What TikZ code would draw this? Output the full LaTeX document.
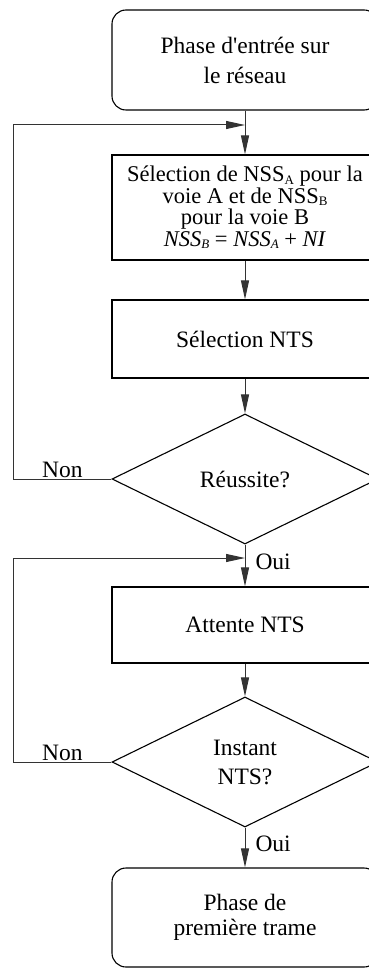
\documentclass[tikz,border=0pt]{standalone}
\usepackage{fontspec}
\setmainfont{Liberation Serif}
\usetikzlibrary{shapes.geometric,arrows.meta}

\newcommand{\bas}[1]{\raisebox{-0.25ex}{\fontsize{13}{13}\selectfont #1}}

\tikzset{
  bloc/.style={draw, line width=1.1pt, minimum width=266pt, align=center, inner sep=0pt},
  term/.style={bloc, rounded corners=14pt},
  test/.style={draw, line width=1.1pt, diamond, aspect=2.05, minimum width=266pt, minimum height=130pt, align=center, inner sep=0pt},
  fleche/.style={draw=black!80, line width=1pt, -{Triangle[length=19pt,width=8pt]}},
  lbl/.style={inner sep=1pt}
}

\begin{document}
\begin{tikzpicture}[x=1pt,y=-1pt,font=\fontsize{23.5}{21}\selectfont]
\useasboundingbox (0,0) rectangle (368,968);

\node[term, minimum height=100pt, font=\fontsize{23.5}{30}\selectfont] (entree) at (245,60) {Phase d\textquotesingle entrée sur\\le réseau};
\node[bloc, minimum height=105pt, font=\fontsize{22.5}{21.5}\selectfont] (selnss) at (245,207.5) {Sélection de NSS\bas{A} pour la\\voie A et de NSS\bas{B}\\pour la voie B\\\textit{NSS\bas{B}} = \textit{NSS\bas{A}} + \textit{NI}};
\node[bloc, minimum height=78pt] (selnts) at (245,339) {Sélection NTS};
\node[test] (reussite) at (245,479) {Réussite?};
\node[bloc, minimum height=76pt] (attente) at (245,625) {Attente NTS};
\node[test, font=\fontsize{23.5}{29}\selectfont] (instant) at (245,762) {Instant\\NTS?};
\node[term, minimum height=99pt, font=\fontsize{23.5}{25}\selectfont] (premiere) at (245,917.5) {Phase de\\première trame};

\coordinate (gauche) at (13.5,0);
\coordinate (retour1) at (245,125);
\coordinate (retour2) at (245,558);

\draw[fleche] (entree) -- (selnss);
\draw[fleche] (selnss) -- (selnts);
\draw[fleche] (selnts) -- (reussite);
\draw[fleche] (reussite) -- node[lbl, right, xshift=9pt, yshift=4pt] {Oui} (attente);
\draw[fleche] (attente) -- (instant);
\draw[fleche] (instant) -- node[lbl, right, xshift=9pt, yshift=4pt] {Oui} (premiere);

% boucles
\draw[fleche] (reussite.west) -- node[lbl, above] {Non} (reussite.west -| gauche) |- (retour1);
\draw[fleche] (instant.west) -- node[lbl, above] {Non} (instant.west -| gauche) |- (retour2);
\end{tikzpicture}
\end{document}
